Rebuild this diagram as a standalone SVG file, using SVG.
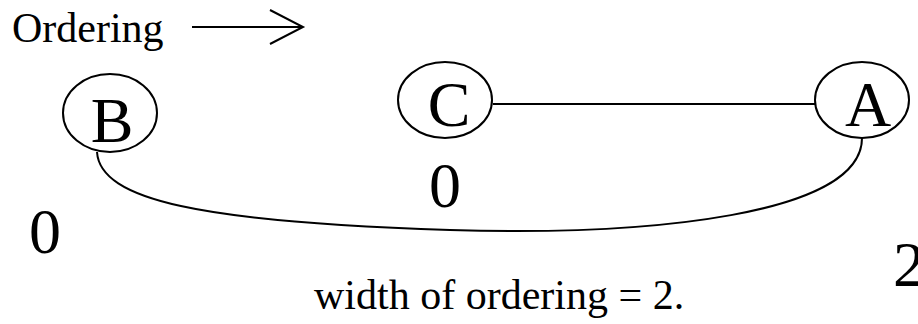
<svg xmlns="http://www.w3.org/2000/svg" width="918" height="324" viewBox="0 0 918 324">
<style>
text{font-family:"Liberation Serif","Times New Roman",serif;fill:#000}
.big{font-size:64px}
.small{font-size:42px}
.n{fill:#fff;stroke:#000;stroke-width:2}
.e{fill:none;stroke:#000;stroke-width:2}
</style>
<rect width="918" height="324" fill="#fff"/>
<g id="legend">
<text class="small" x="12" y="42">Ordering</text>
<path class="e" d="M192 27 H303 M270 10 L303 27 L270 44"/>
</g>
<g id="connectors">
<path class="e" d="M493 104 H815"/>
<path class="e" d="M97 152 C100 200 200 222 450 230 C650 236 862 215 862 138"/>
</g>
<g id="node-B">
<ellipse class="n" cx="110" cy="113" rx="47" ry="39"/>
<text class="big" x="112" y="142" text-anchor="middle">B</text>
</g>
<g id="node-C">
<ellipse class="n" cx="445" cy="100" rx="47" ry="38"/>
<text class="big" x="449" y="126" text-anchor="middle">C</text>
</g>
<g id="node-A">
<ellipse class="n" cx="862" cy="100" rx="47" ry="38"/>
<text class="big" x="868" y="126" text-anchor="middle">A</text>
</g>
<g id="labels">
<text class="big" x="445" y="207" text-anchor="middle">0</text>
<text class="big" x="45" y="253" text-anchor="middle">0</text>
<text class="big" x="893" y="286">2</text>
<text class="small" x="314" y="309">width of ordering = 2.</text>
</g>
</svg>
